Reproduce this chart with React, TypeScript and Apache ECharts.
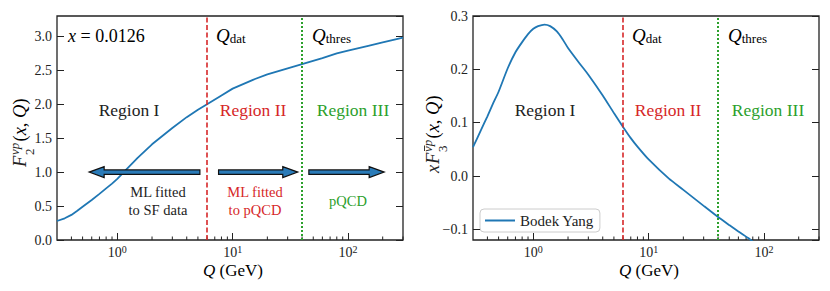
import React, { useEffect, useRef } from "react";
import * as echarts from "echarts";

const F2_Q = [0.3, 0.35, 0.4, 0.45, 0.5, 0.6, 0.7, 0.8, 0.9, 1.0, 1.2, 1.5, 2, 3, 4, 5, 6, 8, 10, 15, 20, 30, 40, 60, 80, 100, 150, 200, 300];
const F2_VAL = [0.28, 0.32, 0.37, 0.43, 0.49, 0.59, 0.68, 0.76, 0.83, 0.9, 1.04, 1.21, 1.41, 1.65, 1.81, 1.92, 2.0, 2.13, 2.23, 2.36, 2.44, 2.53, 2.59, 2.68, 2.75, 2.79, 2.86, 2.91, 2.98];

const F3_Q = [0.3, 0.35, 0.4, 0.45, 0.5, 0.6, 0.7, 0.8, 0.9, 1.0, 1.1, 1.25, 1.4, 1.6, 1.8, 2.0, 2.5, 3, 4, 5, 6, 7, 8, 10, 15, 20, 30, 40, 50, 60, 75, 80];
const F3_VAL = [0.054, 0.085, 0.112, 0.137, 0.158, 0.202, 0.232, 0.251, 0.266, 0.276, 0.281, 0.284, 0.281, 0.271, 0.256, 0.24, 0.212, 0.19, 0.151, 0.118, 0.092, 0.071, 0.055, 0.031, -0.005, -0.026, -0.056, -0.077, -0.092, -0.104, -0.118, -0.123];

const Q_DAT = 6;
const Q_THRES = 40;

const ARROW_FROM = [5.2, 7.55, 45.8];
const ARROW_TO = [0.57, 36.7, 206];
const ARROW_Y = [1.0, 1.0, 1.0];

const MINOR_TICKS = [0.4, 0.5, 0.6, 0.7, 0.8, 0.9, 2, 3, 4, 5, 6, 7, 8, 9, 20, 30, 40, 50, 60, 70, 80, 90, 200, 300];

const X_MIN = 0.3;
const X_MAX = 300;
const Y1_MIN = 0;
const Y1_MAX = 3.3;
const Y2_MIN = -0.12;
const Y2_MAX = 0.3;

const FONT = "Liberation Serif";
const BLUE = "#1f77b4";
const RED = "#d62728";
const GREEN = "#2ca02c";
const AXIS = "#222";

function xAxisCfg(gridIndex: number) {
  return {
    type: "log",
    logBase: 10,
    gridIndex,
    min: X_MIN,
    max: X_MAX,
    axisLine: { show: false, onZero: false },
    axisTick: { show: true, inside: true, length: 7, lineStyle: { color: AXIS, width: 1 } },
    splitLine: { show: false },
    axisLabel: {
      show: true,
      margin: 4,
      showMinLabel: false,
      showMaxLabel: false,
      formatter: (v: number) => `{b|10}{s|${Math.round(Math.log10(v))}}`,
      rich: {
        b: { fontFamily: FONT, fontSize: 14, color: AXIS, lineHeight: 17 },
        s: { fontFamily: FONT, fontSize: 10, color: AXIS, verticalAlign: "top", lineHeight: 10 },
      },
    },
  };
}

function yAxisCfg(gridIndex: number, min: number, max: number, interval: number | undefined, right: boolean, showMax: boolean) {
  const cfg: any = {
    type: "value",
    gridIndex,
    min,
    max,
    position: right ? "right" : "left",
    axisLine: { show: false, onZero: false },
    axisTick: { show: true, inside: true, length: 7, lineStyle: { color: AXIS, width: 1 } },
    splitLine: { show: false },
    axisLabel: {
      show: !right,
      margin: 5,
      showMinLabel: min === 0,
      showMaxLabel: showMax,
      fontFamily: FONT,
      fontSize: 14,
      color: AXIS,
      formatter: (v: number) => {
        const s = (Math.round(v * 1000) / 1000).toFixed(1);
        return s.replace("-", "\u2212");
      },
    },
  };
  if (interval !== undefined) cfg.interval = interval;
  return cfg;
}

function arrowRender(params: any, api: any) {
  const p0 = api.coord([api.value(0), api.value(2)]);
  const p1 = api.coord([api.value(1), api.value(2)]);
  const dir = p1[0] > p0[0] ? 1 : -1;
  const hl = 15;
  const hw = 5.5;
  const sw = 2.2;
  const y = p0[1];
  const xb = p1[0] - dir * hl;
  return {
    type: "polygon",
    shape: {
      points: [
        [p0[0], y - sw],
        [xb, y - sw],
        [xb, y - hw],
        [p1[0], y],
        [xb, y + hw],
        [xb, y + sw],
        [p0[0], y + sw],
      ],
    },
    style: { fill: "#2a7bb8", stroke: "#111", lineWidth: 1.2 },
  };
}

function minorRender(params: any, api: any) {
  const cs = params.coordSys;
  const x = api.coord([api.value(0), api.value(1)])[0];
  const b = cs.y + cs.height;
  return {
    type: "line",
    shape: { x1: x, y1: b, x2: x, y2: b - 3.5 },
    style: { stroke: AXIS, lineWidth: 1 },
  };
}

function vlines() {
  return {
    silent: true,
    symbol: ["none", "none"],
    label: { show: false },
    emphasis: { disabled: true },
    data: [
      { xAxis: Q_DAT, lineStyle: { color: RED, type: [5, 2.5], width: 1.6 } },
      { xAxis: Q_THRES, lineStyle: { color: GREEN, type: [2, 2], width: 2 } },
    ],
  };
}

function txt(x: number, y: number, text: string, color: string, size: number) {
  return {
    type: "text",
    x,
    y,
    silent: true,
    style: {
      text,
      fill: color,
      fontFamily: FONT,
      fontSize: size,
      textAlign: "center",
      textVerticalAlign: "middle",
    },
  };
}

function qLabel(x: number, y: number, sub: string, color: string) {
  return {
    type: "text",
    x,
    y,
    silent: true,
    style: {
      text: `{q|Q}{s|${sub}}`,
      textAlign: "left",
      textVerticalAlign: "middle",
      rich: {
        q: { fontFamily: FONT, fontStyle: "italic", fontSize: 19, color, lineHeight: 20 },
        s: { fontFamily: FONT, fontSize: 13, color, verticalAlign: "bottom", lineHeight: 14 },
      },
    },
  };
}

function yTitle(cx: number, cy: number, prefix: string, sub: string, sup: string, bar: boolean) {
  const main = 18.5;
  const small = 13;
  const children: any[] = [];
  let pos = -40;
  const mainText = (t: string, at: number) => ({
    type: "text",
    x: at,
    y: 0,
    style: {
      text: t,
      fill: AXIS,
      fontFamily: FONT,
      fontStyle: "italic",
      fontSize: main,
      textAlign: "left",
      textVerticalAlign: "bottom",
    },
  });
  if (prefix) {
    children.push(mainText(prefix, pos - 9));
  }
  children.push(mainText("F", pos));
  pos += 12;
  children.push({
    type: "text",
    x: pos,
    y: 7,
    style: { text: sub, fill: AXIS, fontFamily: FONT, fontSize: small, textAlign: "left", textVerticalAlign: "bottom" },
  });
  children.push({
    type: "text",
    x: pos,
    y: -8,
    style: { text: sup, fill: AXIS, fontFamily: FONT, fontStyle: "italic", fontSize: small, textAlign: "left", textVerticalAlign: "bottom" },
  });
  if (bar) {
    children.push({
      type: "line",
      shape: { x1: pos + 1, y1: -17.5, x2: pos + 6.5, y2: -17.5 },
      style: { stroke: AXIS, lineWidth: 0.9 },
    });
  }
  pos += 13.5;
  children.push({
    type: "text",
    x: pos,
    y: 0,
    style: {
      text: "{n|(}{i|x}{n|, }{i|Q}{n|)}",
      textAlign: "left",
      textVerticalAlign: "bottom",
      rich: {
        n: { fontFamily: FONT, fontSize: main, color: AXIS },
        i: { fontFamily: FONT, fontSize: main, fontStyle: "italic", color: AXIS },
      },
    },
  });
  return {
    type: "group",
    x: cx,
    y: cy,
    rotation: Math.PI / 2,
    silent: true,
    children,
  };
}

function xTitle(x: number) {
  return {
    type: "text",
    x,
    y: 270,
    silent: true,
    style: {
      text: "{i|Q}{n| (GeV)}",
      textAlign: "center",
      textVerticalAlign: "middle",
      rich: {
        i: { fontFamily: FONT, fontStyle: "italic", fontSize: 17, color: AXIS },
        n: { fontFamily: FONT, fontSize: 17, color: AXIS },
      },
    },
  };
}

export default function App() {
  const ref = useRef<HTMLDivElement>(null);
  useEffect(() => {
    if (!ref.current) return;
    const chart = echarts.init(ref.current, undefined, { renderer: "svg" });
    const option: any = {
      animation: false,
      backgroundColor: "#fff",
      grid: [
        { left: 57, right: 427, top: 16, bottom: 51, show: true, borderColor: AXIS, borderWidth: 1.3, backgroundColor: "transparent", containLabel: false },
        { left: 473, right: 11, top: 16, bottom: 51, show: true, borderColor: AXIS, borderWidth: 1.3, backgroundColor: "transparent", containLabel: false },
      ],
      xAxis: [xAxisCfg(0), xAxisCfg(1)],
      yAxis: [
        yAxisCfg(0, Y1_MIN, Y1_MAX, 0.5, false, false),
        yAxisCfg(0, Y1_MIN, Y1_MAX, 0.5, true, false),
        yAxisCfg(1, Y2_MIN, Y2_MAX, undefined, false, true),
        yAxisCfg(1, Y2_MIN, Y2_MAX, undefined, true, true),
      ],
      legend: {
        data: [{ name: "Bodek Yang", icon: "rect" }],
        left: 480,
        top: 209,
        itemWidth: 30,
        itemHeight: 2,
        itemGap: 8,
        padding: [4, 6, 4, 5],
        borderColor: "#ccc",
        borderWidth: 1,
        borderRadius: 4,
        backgroundColor: "#fff",
        textStyle: { fontFamily: FONT, fontSize: 15, color: AXIS, lineHeight: 15 },
      },
      series: [
        {
          name: "F2",
          type: "line",
          xAxisIndex: 0,
          yAxisIndex: 0,
          data: F2_Q.map((q, i) => [q, F2_VAL[i]]),
          symbol: "none",
          lineStyle: { color: BLUE, width: 1.8 },
          itemStyle: { color: BLUE },
          markLine: vlines(),
          z: 3,
        },
        {
          name: "Bodek Yang",
          type: "line",
          xAxisIndex: 1,
          yAxisIndex: 2,
          data: F3_Q.map((q, i) => [q, F3_VAL[i]]),
          symbol: "none",
          smooth: 0.2,
          lineStyle: { color: BLUE, width: 1.8 },
          itemStyle: { color: BLUE },
          markLine: vlines(),
          clip: true,
          z: 3,
        },
        {
          name: "arrows",
          type: "custom",
          xAxisIndex: 0,
          yAxisIndex: 0,
          renderItem: arrowRender,
          data: ARROW_FROM.map((a, i) => [a, ARROW_TO[i], ARROW_Y[i]]),
          encode: { x: [0, 1], y: 2 },
          clip: false,
          silent: true,
          z: 5,
        },
        {
          name: "minor0",
          type: "custom",
          xAxisIndex: 0,
          yAxisIndex: 0,
          renderItem: minorRender,
          data: MINOR_TICKS.map((q) => [q, Y1_MIN]),
          encode: { x: 0, y: 1 },
          clip: false,
          silent: true,
        },
        {
          name: "minor1",
          type: "custom",
          xAxisIndex: 1,
          yAxisIndex: 2,
          renderItem: minorRender,
          data: MINOR_TICKS.map((q) => [q, Y2_MIN]),
          encode: { x: 0, y: 1 },
          clip: false,
          silent: true,
        },
      ],
      graphic: [
        {
          type: "text",
          x: 68,
          y: 36,
          silent: true,
          style: {
            text: "{i|x}{n| = 0.0126}",
            textAlign: "left",
            textVerticalAlign: "middle",
            rich: {
              i: { fontFamily: FONT, fontStyle: "italic", fontSize: 18, color: AXIS },
              n: { fontFamily: FONT, fontSize: 18, color: AXIS },
            },
          },
        },
        qLabel(216, 35, "dat", RED),
        qLabel(312, 35, "thres", GREEN),
        qLabel(632, 35, "dat", RED),
        qLabel(728, 35, "thres", GREEN),
        txt(129, 110, "Region I", AXIS, 17.5),
        txt(253, 110, "Region II", RED, 17.5),
        txt(353, 110, "Region III", GREEN, 17.5),
        txt(545, 110, "Region I", AXIS, 17.5),
        txt(668, 110, "Region II", RED, 17.5),
        txt(768, 110, "Region III", GREEN, 17.5),
        txt(158, 192, "ML fitted", AXIS, 14.5),
        txt(158, 210, "to SF data", AXIS, 14.5),
        txt(255, 192, "ML fitted", RED, 14.5),
        txt(255, 210, "to pQCD", RED, 14.5),
        txt(348, 201, "pQCD", GREEN, 14.5),
        xTitle(233),
        xTitle(649),
        yTitle(29, 127, "", "2", "\u03bdp", false),
        yTitle(442, 124, "x", "3", "\u03bdp", true),
      ],
    };
    chart.setOption(option);
    return () => chart.dispose();
  }, []);
  return <div ref={ref} style={{ width: 830, height: 291, position: "absolute", left: 0, top: 0 }} />;
}
